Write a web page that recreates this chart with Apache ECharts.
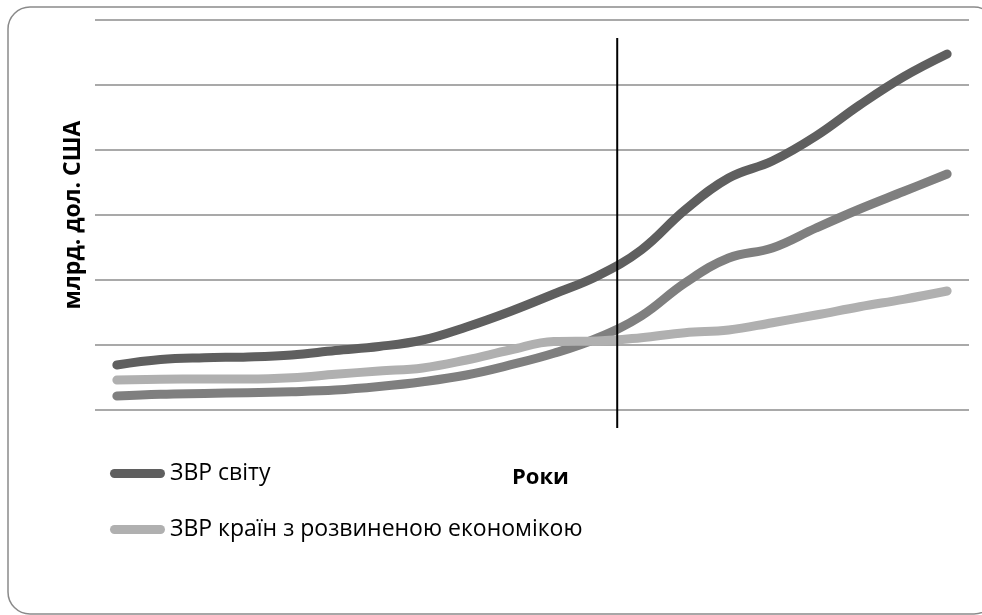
<!DOCTYPE html>
<html>
<head>
<meta charset="utf-8">
<script src="https://cdn.jsdelivr.net/npm/echarts@6/dist/echarts.min.js"></script>
<style>
  html, body { margin: 0; padding: 0; background: #ffffff; overflow: hidden; }
  #chart { width: 982px; height: 615px; }
</style>
</head>
<body>
<div id="chart"></div>
<script>
// Official reserve assets, bn USD, one value per year (20 years)
const periods = [0, 1, 2, 3, 4, 5, 6, 7, 8, 9, 10, 11, 12, 13, 14, 15, 16, 17, 18, 19];
const worldReserves = [1385, 1554, 1609, 1631, 1692, 1831, 1954, 2154, 2554, 3031,
                       3569, 4123, 4923, 6154, 7138, 7662, 8431, 9385, 10250, 10954];
const emergingReserves = [431, 483, 508, 532, 563, 615, 723, 871, 1077, 1385,
                          1745, 2215, 2892, 3908, 4677, 4985, 5600, 6185, 6723, 7262];
const advancedReserves = [923, 945, 954, 954, 994, 1098, 1200, 1292, 1538, 1846,
                          2108, 2123, 2225, 2379, 2462, 2686, 2923, 3178, 3406, 3662];
// Position of the vertical divider (between two years)
const dividerPos = 11.45;
const yTicks = [0, 2000, 4000, 6000, 8000, 10000, 12000];

const nameWorld = 'ЗВР світу';
const nameAdvanced = 'ЗВР країн з розвиненою економікою';
const nameEmerging = 'ЗВР країн, що розвиваються';

const pairs = arr => periods.map((p, i) => [p, arr[i]]);
const capsule = 'path://M4.5,0H50.5A4.5,4.5,0,0,1,50.5,9H4.5A4.5,4.5,0,0,1,4.5,0Z';
const FONT = '"Open Sans", "Noto Sans", sans-serif';

const chart = echarts.init(document.getElementById('chart'), null, { renderer: 'canvas' });

function lineSeries(name, data, color) {
  return {
    name: name,
    type: 'line',
    data: pairs(data),
    smooth: 0.4,
    symbol: 'none',
    color: color,
    lineStyle: { color: color, width: 9, cap: 'round', join: 'round' },
    emphasis: { disabled: true },
    z: 3
  };
}

chart.setOption({
  animation: false,
  backgroundColor: '#ffffff',
  grid: { left: 95, right: 13, top: 20, bottom: 205 },
  xAxis: {
    type: 'value',
    min: -0.5,
    max: periods.length - 0.5,
    axisLine: { show: false },
    axisTick: { show: false },
    axisLabel: { show: false },
    splitLine: { show: false }
  },
  yAxis: {
    type: 'value',
    min: yTicks[0],
    max: yTicks[yTicks.length - 1],
    interval: yTicks[1] - yTicks[0],
    axisLine: { show: false },
    axisTick: { show: false },
    axisLabel: { show: false },
    splitLine: { show: true, lineStyle: { color: '#8c8c8c', width: 1.5 } },
    name: 'млрд. дол. США',
    nameLocation: 'middle',
    nameRotate: 90,
    nameGap: 10,
    nameTextStyle: { fontFamily: FONT, fontWeight: 'bold', fontSize: 23, color: '#000' }
  },
  legend: {
    orient: 'vertical',
    left: 110,
    top: 462,
    padding: 0,
    itemGap: 33,
    itemWidth: 55,
    itemHeight: 9,
    selectedMode: false,
    data: [
      { name: nameWorld, icon: capsule },
      { name: nameAdvanced, icon: capsule }
    ],
    textStyle: { fontFamily: FONT, fontSize: 23, color: '#000' }
  },
  series: [
    lineSeries(nameWorld, worldReserves, '#5f5f5f'),
    lineSeries(nameEmerging, emergingReserves, '#7f7f7f'),
    lineSeries(nameAdvanced, advancedReserves, '#b0b0b0')
  ]
});

// Frame, axis title and the vertical divider
const xDiv = chart.convertToPixel({ gridIndex: 0 }, [dividerPos, 0])[0];
chart.setOption({
  graphic: [
    {
      type: 'rect',
      shape: { x: 8, y: 7, width: 988, height: 607, r: 22 },
      style: { fill: 'none', stroke: '#8a8a8a', lineWidth: 1.5 },
      silent: true
    },
    {
      type: 'line',
      shape: { x1: xDiv, y1: 38, x2: xDiv, y2: 428 },
      style: { stroke: '#000', lineWidth: 2 },
      z: 10,
      silent: true
    },
    {
      type: 'text',
      left: 512,
      top: 467,
      style: { text: 'Роки', fontFamily: FONT, fontWeight: 'bold', fontSize: 22, fill: '#000' },
      silent: true
    }
  ]
});
</script>
</body>
</html>
